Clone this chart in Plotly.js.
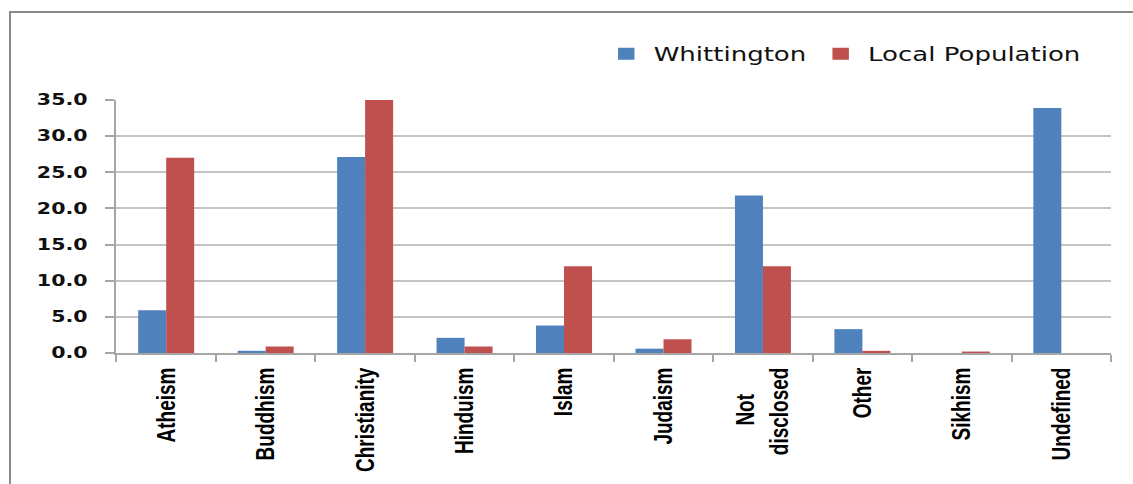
<!DOCTYPE html>
<html>
<head>
<meta charset="utf-8">
<script src="https://cdn.plot.ly/plotly-3.0.1.min.js"></script>
<style>
  html, body { margin: 0; padding: 0; background: #fff; }
  #wrap { position: relative; width: 1133px; height: 484px; overflow: hidden; background: #fff; }
  #chart { width: 827px; height: 484px; transform: scaleX(1.37); transform-origin: 0 0; }
  #frame { position: absolute; left: 9px; top: 11px; width: 1300px; height: 700px;
           border-left: 2px solid #8a8a8a; border-top: 2px solid #8a8a8a; pointer-events: none; }
</style>
</head>
<body>
<div id="wrap">
  <div id="chart"></div>
  <div id="frame"></div>
</div>
<script>
// Religion breakdown (%), Whittington vs the local population
const categories = ['Atheism', 'Buddhism', 'Christianity', 'Hinduism', 'Islam',
                    'Judaism', 'Not disclosed', 'Other', 'Sikhism', 'Undefined'];
// Axis labels; the short first line of the two-line label is padded so it sits centred
const tickLabels = ['Atheism', 'Buddhism', 'Christianity', 'Hinduism', 'Islam',
                    'Judaism', 'Not\u00a0\u00a0\u00a0\u00a0\u00a0\u200b<br>disclosed', 'Other', 'Sikhism', 'Undefined'];
const whittington = [5.9, 0.3, 27.1, 2.1, 3.8, 0.6, 21.8, 3.3, 0.0, 33.9];
const localPopulation = [27.0, 0.9, 35.0, 0.9, 12.0, 1.9, 12.0, 0.3, 0.2, 0.0];
const yTicks = [0, 5, 10, 15, 20, 25, 30, 35];

const traces = [
  { type: 'bar', name: 'Whittington', x: categories, y: whittington,
    marker: { color: '#4f81bd' } },
  { type: 'bar', name: 'Local Population', x: categories, y: localPopulation,
    marker: { color: '#c0504d' } }
];

const layout = {
  width: 827, height: 484,
  margin: { l: 84.7, r: 16, t: 100, b: 131.3, pad: 0 },
  paper_bgcolor: 'rgba(0,0,0,0)',
  plot_bgcolor: '#fff',
  barmode: 'group',
  bargap: 0.437,
  bargroupgap: 0,
  showlegend: true,
  legend: {
    orientation: 'h', x: 0.485, xanchor: 'left', y: 1.182, yanchor: 'middle',
    font: { family: 'DejaVu Sans, Verdana, sans-serif', size: 19, color: '#111' },
    bgcolor: 'rgba(0,0,0,0)'
  },
  xaxis: {
    type: 'category', tickangle: -90, automargin: false,
    tickmode: 'array', tickvals: categories, ticktext: tickLabels,
    showline: true, linecolor: '#a6a6a6', linewidth: 2,
    ticks: 'outside', tickson: 'boundaries', ticklen: 7, tickwidth: 1.5, tickcolor: '#a6a6a6',
    showgrid: false, ticklabelstandoff: 5,
    tickfont: { family: 'Liberation Sans, Arial, sans-serif',
                size: 19, weight: 700, color: '#000' }
  },
  yaxis: {
    range: [0, 35], tickvals: yTicks, tickformat: '.1f', automargin: false,
    showgrid: true, gridcolor: '#c4c4c4', gridwidth: 2, zeroline: false,
    showline: true, linecolor: '#a6a6a6', linewidth: 1.5,
    ticks: 'outside', ticklen: 6.6, tickwidth: 2, tickcolor: '#a6a6a6',
    ticklabelstandoff: 10,
    tickfont: { family: 'DejaVu Sans, Verdana, sans-serif', size: 15, weight: 700, color: '#111' }
  }
};

Plotly.newPlot('chart', traces, layout, { displayModeBar: false, staticPlot: true });
</script>
</body>
</html>
